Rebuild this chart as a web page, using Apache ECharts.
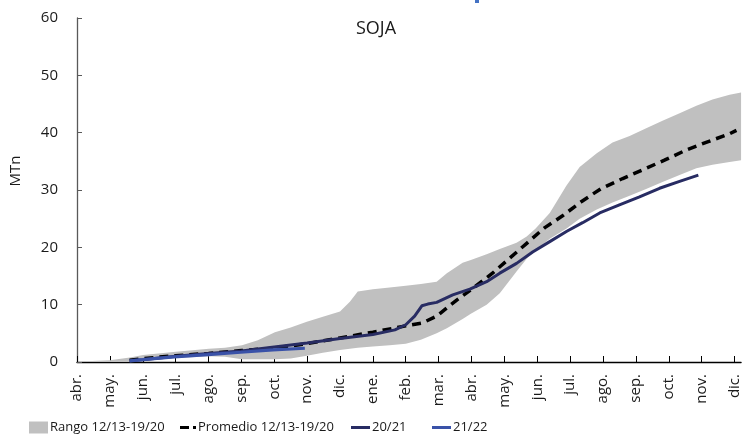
<!DOCTYPE html>
<html>
<head>
<meta charset="utf-8">
<script src="https://cdn.jsdelivr.net/npm/echarts@6/dist/echarts.min.js"></script>
<style>
  html, body { margin: 0; padding: 0; background: #fff; }
  #chart { width: 742px; height: 437px; }
</style>
</head>
<body>
<div id="chart"></div>
<script>
// ---- Data (x = months since the first "abr.") ----
const monthLabels = ['abr.', 'may.', 'jun.', 'jul.', 'ago.', 'sep.', 'oct.', 'nov.', 'dic.', 'ene.', 'feb.', 'mar.',
                     'abr.', 'may.', 'jun.', 'jul.', 'ago.', 'sep.', 'oct.', 'nov.', 'dic.'];
const yTicks = [0, 10, 20, 30, 40, 50, 60];

const bandX = [0.09, 1.00, 1.61, 2.01, 3.01, 4.01, 4.50, 5.02, 5.50, 6.02, 6.50, 6.99, 7.48, 8.00, 8.30, 8.54,
               9.00, 9.51, 10.00, 10.46, 10.94, 11.25, 11.73, 11.98, 12.46, 12.86, 13.37, 13.68, 13.95, 14.38,
               14.89, 15.29, 15.81, 16.29, 16.81, 17.33, 17.81, 18.33, 18.84, 19.33, 19.85, 20.20];
const bandHigh = [0.1, 0.3, 0.8, 1.2, 1.8, 2.3, 2.5, 2.9, 3.8, 5.2, 6.0, 7.0, 7.9, 8.8, 10.5, 12.3,
                  12.7, 13.0, 13.3, 13.6, 14.0, 15.5, 17.3, 17.8, 18.8, 19.7, 20.8, 21.9, 23.3, 26.0,
                  30.8, 34.0, 36.4, 38.3, 39.4, 40.8, 42.1, 43.4, 44.7, 45.8, 46.6, 47.0];
const bandLow = [0.0, 0.0, 0.1, 0.2, 0.7, 1.0, 0.9, 0.5, 0.5, 0.5, 0.6, 1.1, 1.6, 2.1, 2.3, 2.5,
                 2.7, 2.9, 3.2, 3.9, 5.0, 5.9, 7.5, 8.4, 10.0, 12.0, 15.8, 18.0, 19.5, 21.5,
                 23.3, 25.0, 26.6, 27.8, 29.0, 30.2, 31.4, 32.6, 33.8, 34.4, 34.9, 35.2];

const avgX = [1.6, 2.0, 3.0, 4.0, 5.0, 6.0, 7.0, 8.0, 9.0, 10.0, 10.5, 10.94, 11.55, 12.1, 12.64, 13.1,
              13.68, 14.22, 14.77, 15.35, 15.93, 16.6, 17.2, 17.87, 18.54, 19.18, 19.85, 20.06];
const avgY = [0.3, 0.6, 1.1, 1.5, 2.0, 2.4, 3.2, 4.2, 5.2, 6.3, 6.8, 8.0, 10.8, 13.1, 15.5, 17.8,
              20.7, 23.4, 25.5, 28.0, 30.2, 32.0, 33.5, 35.2, 37.0, 38.4, 39.8, 40.4];

const s2021X = [1.6, 2.0, 3.0, 4.0, 5.0, 6.0, 7.0, 8.0, 9.0, 9.67, 10.0, 10.27, 10.49, 10.67, 10.94, 11.43,
                11.95, 12.46, 12.86, 13.37, 13.86, 14.38, 14.9, 15.38, 15.9, 16.5, 17.11, 17.72, 18.33, 18.9];
const s2021Y = [0.2, 0.4, 1.0, 1.5, 1.9, 2.6, 3.3, 4.1, 4.8, 5.6, 6.5, 8.0, 9.8, 10.1, 10.4, 11.7,
                12.7, 14.0, 15.5, 17.2, 19.2, 21.0, 22.8, 24.3, 26.0, 27.4, 28.8, 30.3, 31.5, 32.6];

const s2122X = [1.6, 2.0, 2.95, 3.98, 4.98, 5.96, 6.93];
const s2122Y = [0.2, 0.4, 0.9, 1.3, 1.7, 2.1, 2.4];

const names = ['Rango 12/13-19/20', 'Promedio 12/13-19/20', '20/21', '21/22'];
const colors = { band: '#c0c0c0', avg: '#000000', s2021: '#282c63', s2122: '#3a52a8' };

// ---- Build series data ----
const pair = (xs, ys) => xs.map((x, i) => [x, ys[i]]);
const bandData = bandX.map((x, i) => [x, bandLow[i], bandHigh[i]]);

const FONT = '"Open Sans", "Noto Sans", sans-serif';
const chart = echarts.init(document.getElementById('chart'), null, { renderer: 'canvas' });

function legendAt(name, left, width, height, icon) {
  return {
    data: [{ name: name, icon: icon }], left: left, top: 421, itemWidth: width, itemHeight: height, padding: 0,
    selectedMode: false, itemGap: 0,
    textStyle: { fontFamily: FONT, fontSize: 13, color: '#1a1a1a', padding: [0, 0, 0, -3] }
  };
}

chart.setOption({
  animation: false,
  backgroundColor: '#ffffff',
  title: {
    text: 'SOJA', left: 351, top: 15,
    textStyle: { fontFamily: FONT, fontSize: 18, fontWeight: 'normal', color: '#1a1a1a' }
  },
  grid: { left: 77, top: 18, width: 665, height: 344, containLabel: false },
  legend: [
    legendAt(names[0], 29, 19, 12, 'rect'),
    legendAt(names[1], 180, 16, 3, 'path://M0,0H9V3H0Z M13,0H16V3H13Z'),
    legendAt(names[2], 351, 19, 3, 'rect'),
    legendAt(names[3], 432, 19, 3, 'rect')
  ],
  xAxis: {
    type: 'value', min: 0, max: 20.2,
    splitLine: { show: false },
    axisLine: { show: true, lineStyle: { color: '#000', width: 1.3 } },
    axisTick: { show: true, inside: true, length: 6, lineStyle: { color: '#000' },
                customValues: monthLabels.map((_, i) => i) },
    axisLabel: {
      customValues: monthLabels.map((_, i) => i),
      rotate: 90, margin: 12, fontFamily: FONT, fontSize: 15, color: '#1a1a1a',
      formatter: v => monthLabels[Math.round(v)] || ''
    }
  },
  yAxis: {
    type: 'value', min: yTicks[0], max: yTicks[yTicks.length - 1], interval: 10,
    splitLine: { show: false },
    axisLine: { show: true, lineStyle: { color: '#595959', width: 1.3 } },
    axisTick: { show: true, inside: true, length: 5, lineStyle: { color: '#595959' } },
    axisLabel: { margin: 19, fontFamily: FONT, fontSize: 15, color: '#1a1a1a' }
  },
  graphic: [
    { type: 'text', x: 16, y: 171, rotation: Math.PI / 2,
      style: { text: 'MTn', font: '15px ' + FONT, fill: '#1a1a1a', align: 'center', verticalAlign: 'middle' } },
    { type: 'rect', shape: { x: 475, y: 0, width: 4, height: 3 }, style: { fill: '#4472c4' } }
  ],
  series: [
    {
      name: names[0], type: 'custom', data: bandData, silent: true, z: 1,
      itemStyle: { color: colors.band },
      encode: { x: 0, y: [1, 2] },
      renderItem: function (params, api) {
        if (params.dataIndex !== 0) return null;
        const upper = bandData.map(d => api.coord([d[0], d[2]]));
        const lower = bandData.map(d => api.coord([d[0], d[1]])).reverse();
        return {
          type: 'polygon',
          shape: { points: upper.concat(lower) },
          style: { fill: colors.band, stroke: null }
        };
      }
    },
    {
      name: names[1], type: 'line', data: pair(avgX, avgY), symbol: 'none',
      itemStyle: { color: colors.avg },
      lineStyle: { color: colors.avg, width: 3.5, type: [9, 6] }, z: 3
    },
    {
      name: names[2], type: 'line', data: pair(s2021X, s2021Y), symbol: 'none',
      itemStyle: { color: colors.s2021 },
      lineStyle: { color: colors.s2021, width: 3 }, z: 4
    },
    {
      name: names[3], type: 'line', data: pair(s2122X, s2122Y), symbol: 'none',
      itemStyle: { color: colors.s2122 },
      lineStyle: { color: colors.s2122, width: 3.2 }, z: 5
    }
  ]
});
</script>
</body>
</html>
